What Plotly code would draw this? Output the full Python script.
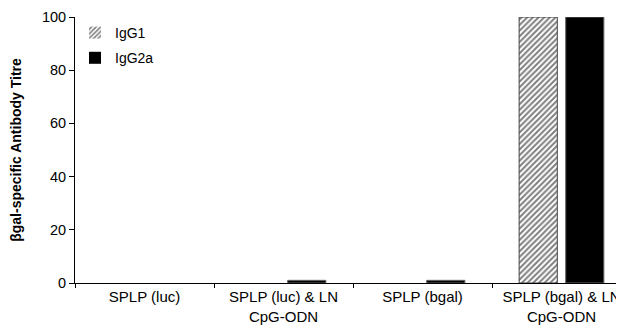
import plotly.graph_objects as go

categories = ["SPLP (luc)", "SPLP (luc) & LN<br>CpG-ODN", "SPLP (bgal)", "SPLP (bgal) & LN<br>CpG-ODN"]
igg1 = [0, 0, 0, 100]
igg2a = [0, 1, 1, 100]
y_ticks = [0, 20, 40, 60, 80, 100]

fig = go.Figure()
fig.add_trace(go.Bar(
    x=categories, y=igg1, name="IgG1", legendgroup="a",
    marker=dict(color="white",
                line=dict(color="#444444", width=[1 if v > 0 else 0 for v in igg1]),
                pattern=dict(shape="/", fgcolor="black", bgcolor="white", size=4, solidity=0.5)),
))
fig.add_trace(go.Bar(
    x=categories, y=igg2a, name="IgG2a", legendgroup="b",
    marker=dict(color="black",
                line=dict(color="#666666", width=[1 if v > 0 else 0 for v in igg2a])),
))

fig.update_layout(
    width=624, height=330,
    margin=dict(l=67, r=1, t=9, b=55, autoexpand=False),
    plot_bgcolor="white", paper_bgcolor="white",
    barmode="group", bargap=0.33, bargroupgap=0.18,
    font=dict(family="Arial, Liberation Sans, sans-serif", size=15, color="black"),
    showlegend=True,
    legend=dict(x=0.0, y=1.0, xanchor="left", yanchor="top", bgcolor="rgba(0,0,0,0)",
                font=dict(size=14), tracegroupgap=4, itemwidth=30),
    xaxis=dict(
        range=[-0.5, 3.5], showline=True, linecolor="black", linewidth=1,
        ticks="outside", tickson="boundaries", ticklen=4, tickcolor="black",
        showgrid=False, tickfont=dict(size=15), automargin=False,
    ),
    yaxis=dict(
        range=[0, 100], tickvals=y_ticks, showline=True, linecolor="black", linewidth=1,
        ticks="outside", ticklen=5, tickcolor="black", showgrid=False, zeroline=False,
        tickfont=dict(size=14.5), ticklabeloverflow="allow", automargin=False,
        title=dict(text="<b>βgal-specific Antibody Titre</b>", font=dict(size=14), standoff=24),
    ),
)

fig.write_html("out.html")
